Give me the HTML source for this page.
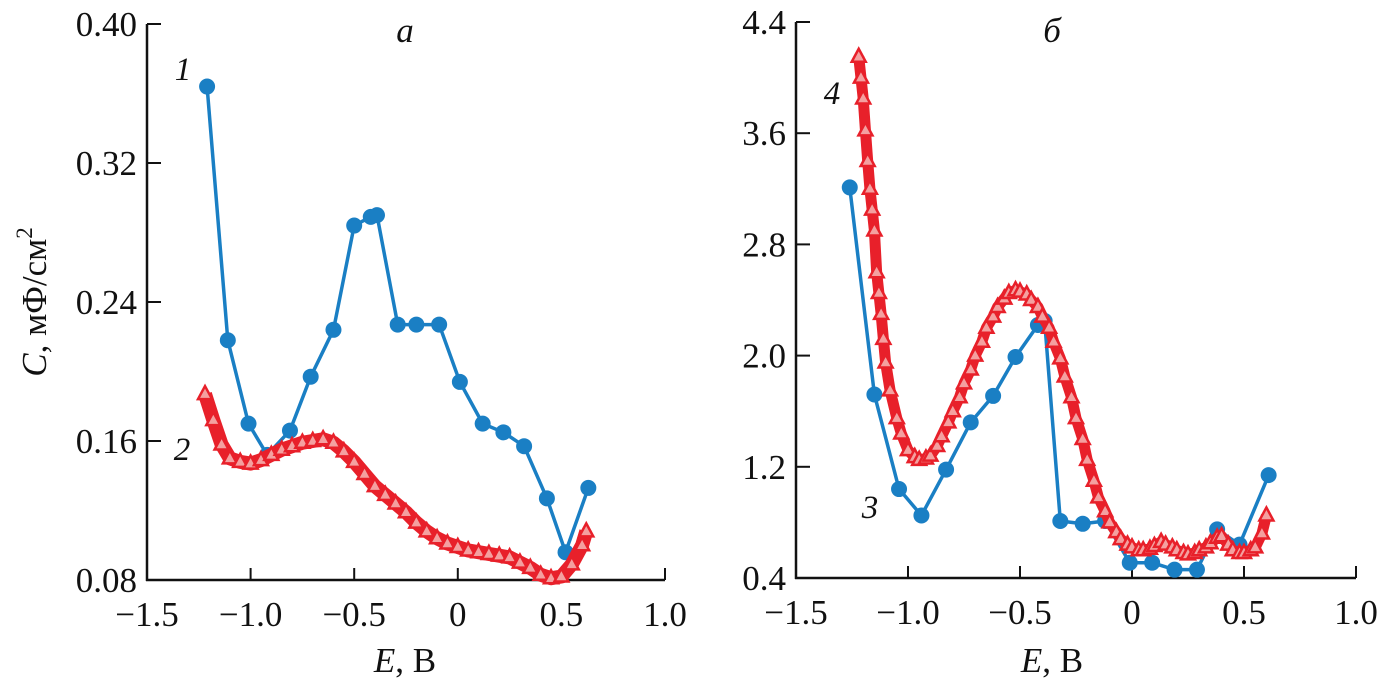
<!DOCTYPE html>
<html><head><meta charset="utf-8"><style>
body{margin:0;background:#fff;}
svg{display:block;font-family:"Liberation Serif",serif;}
</style></head><body>
<svg id="c" width="1384" height="686" viewBox="0 0 1384 686" xmlns="http://www.w3.org/2000/svg"></svg>
<script>
const xTicks=[-1.5,-1.0,-0.5,0,0.5,1.0];
const xTickLabels=["\u22121.5","\u22121.0","\u22120.5","0","0.5","1.0"];
const aYTicks=[0.40,0.32,0.24,0.16,0.08];
const aYLabels=["0.40","0.32","0.24","0.16","0.08"];
const bYTicks=[4.4,3.6,2.8,2.0,1.2,0.4];
const bYLabels=["4.4","3.6","2.8","2.0","1.2","0.4"];
const s1E=[-1.21,-1.11,-1.01,-0.92,-0.81,-0.71,-0.60,-0.50,-0.42,-0.39,-0.29,-0.20,-0.09,0.01,0.12,0.22,0.32,0.43,0.52,0.63];
const s1C=[0.364,0.218,0.170,0.152,0.166,0.197,0.224,0.284,0.289,0.290,0.227,0.227,0.227,0.194,0.170,0.165,0.157,0.127,0.096,0.133];
const s2E=[-1.22,-1.18,-1.14,-1.1,-1.05,-1.0,-0.95,-0.9,-0.85,-0.8,-0.75,-0.7,-0.65,-0.6,-0.55,-0.5,-0.45,-0.4,-0.35,-0.3,-0.25,-0.2,-0.15,-0.1,-0.05,0,0.05,0.1,0.15,0.2,0.25,0.3,0.35,0.4,0.45,0.5,0.55,0.6,0.62];
const s2C=[0.187,0.172,0.158,0.150,0.148,0.147,0.149,0.152,0.155,0.157,0.159,0.160,0.161,0.159,0.154,0.148,0.141,0.134,0.129,0.124,0.119,0.113,0.108,0.104,0.101,0.099,0.097,0.096,0.095,0.094,0.093,0.090,0.087,0.083,0.081,0.082,0.089,0.100,0.108];
const s3E=[-1.26,-1.15,-1.04,-0.94,-0.83,-0.72,-0.62,-0.52,-0.42,-0.39,-0.32,-0.22,-0.12,-0.01,0.09,0.19,0.29,0.38,0.48,0.61];
const s3C=[3.21,1.72,1.04,0.85,1.18,1.52,1.71,1.99,2.22,2.25,0.81,0.79,0.81,0.51,0.51,0.46,0.46,0.75,0.64,1.14];
const s4E=[-1.22,-1.21,-1.2,-1.19,-1.18,-1.17,-1.16,-1.15,-1.14,-1.13,-1.12,-1.11,-1.1,-1.08,-1.05,-1.03,-1.0,-0.97,-0.95,-0.92,-0.9,-0.87,-0.85,-0.82,-0.8,-0.77,-0.75,-0.72,-0.7,-0.67,-0.65,-0.62,-0.6,-0.57,-0.55,-0.52,-0.5,-0.47,-0.45,-0.42,-0.4,-0.37,-0.35,-0.32,-0.3,-0.27,-0.25,-0.22,-0.2,-0.17,-0.15,-0.12,-0.1,-0.07,-0.05,-0.02,0,0.03,0.05,0.08,0.1,0.13,0.15,0.18,0.2,0.23,0.25,0.28,0.3,0.33,0.35,0.38,0.4,0.43,0.45,0.48,0.5,0.53,0.55,0.58,0.6];
const s4C=[4.15,4.0,3.85,3.62,3.4,3.2,3.05,2.9,2.6,2.45,2.3,2.12,1.95,1.75,1.55,1.44,1.32,1.27,1.25,1.26,1.28,1.35,1.42,1.52,1.6,1.7,1.8,1.9,2.0,2.1,2.2,2.28,2.35,2.41,2.45,2.47,2.46,2.44,2.4,2.35,2.28,2.2,2.1,1.98,1.85,1.7,1.55,1.4,1.25,1.1,0.98,0.88,0.8,0.73,0.68,0.64,0.62,0.60,0.6,0.61,0.63,0.66,0.64,0.62,0.6,0.58,0.57,0.58,0.6,0.62,0.65,0.69,0.7,0.64,0.6,0.58,0.58,0.6,0.62,0.72,0.85];

const NS="http://www.w3.org/2000/svg";
const svg=document.getElementById('c');
function mk(t,a,p){const e=document.createElementNS(NS,t);for(const k in a)e.setAttribute(k,a[k]);(p||svg).appendChild(e);return e;}
const A={x0:147,x1:665,y0:24,y1:580,emin:-1.5,emax:1.0,cmin:0.08,cmax:0.40};
const B={x0:796,x1:1356,y0:22,y1:578,emin:-1.5,emax:1.0,cmin:0.4,cmax:4.4};
function sx(P,e){return P.x0+(e-P.emin)/(P.emax-P.emin)*(P.x1-P.x0);}
function sy(P,c){return P.y1-(c-P.cmin)/(P.cmax-P.cmin)*(P.y1-P.y0);}
function axes(P,yt,yl,name){
 const g=mk('g',{});
 
 
 mk('line',{x1:P.x0,y1:P.y0,x2:P.x0,y2:P.y1+1,stroke:'#111','stroke-width':2.5},g);
 mk('line',{x1:P.x0-1,y1:P.y1,x2:P.x1,y2:P.y1,stroke:'#111','stroke-width':2.5},g);
 xTicks.forEach((v,i)=>{const x=sx(P,v);
  mk('line',{x1:x,y1:P.y1,x2:x,y2:P.y1-12,stroke:'#111','stroke-width':2},g);
  const t=mk('text',{x:x,y:P.y1+46,'text-anchor':'middle','font-size':35,fill:'#111'},g);t.textContent=xTickLabels[i];
  
  });
 yt.forEach((v,i)=>{const y=sy(P,v);
  mk('line',{x1:P.x0,y1:y,x2:P.x0+14,y2:y,stroke:'#111','stroke-width':2},g);
  const t=mk('text',{x:P.x0-10,y:y+12,'text-anchor':'end','font-size':35,fill:'#111'},g);t.textContent=yl[i];
  
  });
}
function line(P,E,C,col,w,name){const p=mk('polyline',{points:E.map((e,i)=>sx(P,e)+','+sy(P,C[i])).join(' '),fill:'none',stroke:col,'stroke-width':w,'stroke-linejoin':'round'});
 
 }
function dots(P,E,C,name){E.forEach((e,i)=>{const c=mk('circle',{cx:sx(P,e),cy:sy(P,C[i]),r:8,fill:'#1a7fc4'});
 
 });}
function tris(P,E,C,name){E.forEach((e,i)=>{const x=sx(P,e),y=sy(P,C[i]);const t=mk('polygon',{points:`${x},${y-8} ${x-7},${y+5} ${x+7},${y+5}`,fill:'#f4a0a0',stroke:'#e8202a','stroke-width':2.5});
 
 });}
axes(A,aYTicks,aYLabels,'panel-a');
axes(B,bYTicks,bYLabels,'panel-b');
line(A,s1E,s1C,'#1a7fc4',3.5,'curve-1-line');dots(A,s1E,s1C,'curve-1-point');
line(A,s2E,s2C,'#e8202a',14,'curve-2-line');tris(A,s2E,s2C,'curve-2-point');
line(B,s3E,s3C,'#1a7fc4',3.5,'curve-3-line');dots(B,s3E,s3C,'curve-3-point');
line(B,s4E,s4C,'#e8202a',11,'curve-4-line');tris(B,s4E,s4C,'curve-4-point');
function txt(x,y,s,sz,name,extra){const t=mk('text',Object.assign({x:x,y:y,'font-size':sz,fill:'#111'},extra||{}));t.innerHTML=s;
 
 return t;}
txt(405,42,'а',35,'panel-a-title',{'font-style':'italic','text-anchor':'middle'});
txt(1052,42,'б',35,'panel-b-title',{'font-style':'italic','text-anchor':'middle'});
txt(183,80,'1',33,'curve-1-label',{'font-style':'italic','text-anchor':'middle'});
txt(182,460,'2',33,'curve-2-label',{'font-style':'italic','text-anchor':'middle'});
txt(870,518,'3',33,'curve-3-label',{'font-style':'italic','text-anchor':'middle'});
txt(832,104,'4',33,'curve-4-label',{'font-style':'italic','text-anchor':'middle'});
txt(405,672,'<tspan font-style="italic">E</tspan>, В',35,'x-axis-title-a',{'text-anchor':'middle'});
txt(1052,672,'<tspan font-style="italic">E</tspan>, В',35,'x-axis-title-b',{'text-anchor':'middle'});
txt(0,0,'<tspan font-style="italic">C</tspan>, мФ/см<tspan dy="-14" font-size="23">2</tspan>',35,'y-axis-title',{'text-anchor':'middle',transform:'translate(46,302) rotate(-90)'});
</script>
</body></html>
